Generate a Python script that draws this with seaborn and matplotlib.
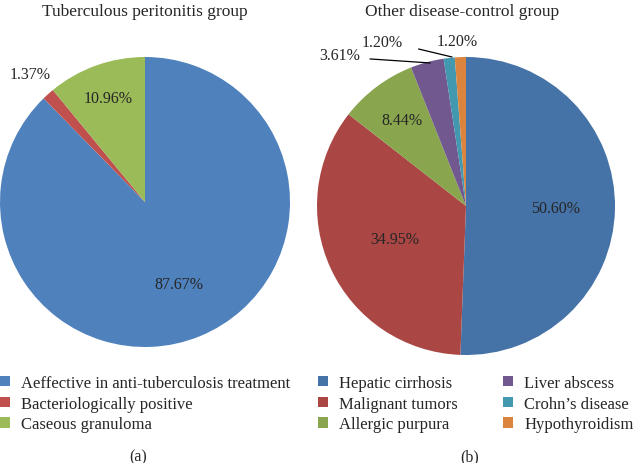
import numpy as np
import matplotlib
matplotlib.use('Agg')
import matplotlib.pyplot as plt
import seaborn as sns

sns.set_theme(style="white")
plt.rcParams['font.family'] = ['Liberation Serif', 'DejaVu Serif']

# data
tb_labels = ['Aeffective in anti-tuberculosis treatment', 'Bacteriologically positive', 'Caseous granuloma']
tb_values = [87.67, 1.37, 10.96]
tb_colors = ['#4F81BD', '#C0504D', '#9BBB59']

ctrl_labels = ['Hepatic cirrhosis', 'Malignant tumors', 'Allergic purpura',
               'Liver abscess', "Crohn\u2019s disease", 'Hypothyroidism']
ctrl_values = [50.60, 34.95, 8.44, 3.61, 1.20, 1.20]
ctrl_colors = ['#4572A7', '#AA4643', '#89A54E', '#71588F', '#4198AF', '#DB843D']

W, H = 633, 464
fig = plt.figure(figsize=(W / 100, H / 100), dpi=100)
fig.patch.set_facecolor('white')


def px_axes(cx, cy, r):
    return fig.add_axes([(cx - r) / W, (H - cy - r) / H, 2 * r / W, 2 * r / H])


def mid_angle(w):
    return np.deg2rad((w.theta1 + w.theta2) / 2)


fs = 11.5

# ---- left pie
ax1 = px_axes(145, 203, 145)
w1, _ = ax1.pie(tb_values, colors=tb_colors, startangle=90, counterclock=False,
                wedgeprops=dict(linewidth=0))
ax1.set_xlim(-1, 1); ax1.set_ylim(-1, 1)
# label distances from centre, per wedge
tb_dist = [0.61, 1.19, 0.76]
for w, v, d in zip(w1, tb_values, tb_dist):
    a = mid_angle(w)
    ax1.text(d * np.cos(a), d * np.sin(a), f'{v:.2f}%', ha='center', va='center', fontsize=fs)

# ---- right pie
ax2 = px_axes(466, 207, 149)
w2, _ = ax2.pie(ctrl_values, colors=ctrl_colors, startangle=90, counterclock=False,
                wedgeprops=dict(linewidth=0))
ax2.set_xlim(-1, 1); ax2.set_ylim(-1, 1)
ctrl_dist = [0.6, 0.53, 0.72]
for w, v, d in zip(w2[:3], ctrl_values[:3], ctrl_dist):
    a = mid_angle(w)
    ax2.text(d * np.cos(a), d * np.sin(a), f'{v:.2f}%', ha='center', va='center', fontsize=fs)

# small slices with leader lines (text positions in axes data units)
ax2.annotate(f'{ctrl_values[3]:.2f}%', xy=(-0.24, 0.96), xytext=(-0.85, 1.013),
             ha='center', va='center', fontsize=fs,
             arrowprops=dict(arrowstyle='-', color='black', lw=0.9, relpos=(1, 0.3),
                             shrinkA=5, shrinkB=0))
ax2.annotate(f'{ctrl_values[4]:.2f}%', xy=(-0.094, 1.0), xytext=(-0.56, 1.10),
             ha='center', va='center', fontsize=fs,
             arrowprops=dict(arrowstyle='-', color='black', lw=0.9, relpos=(1, 0.3),
                             shrinkA=9, shrinkB=0))
ax2.text(-0.06, 1.107, f'{ctrl_values[5]:.2f}%', ha='center', va='center', fontsize=fs)

# titles
fig.text(145 / W, 1 - 12 / H, 'Tuberculous peritonitis group', ha='center', va='center', fontsize=12.5)
fig.text(462 / W, 1 - 12 / H, 'Other disease-control group', ha='center', va='center', fontsize=12.5)

# ---- legends
leg_kw = dict(frameon=False, fontsize=12, handlelength=0.6, handleheight=0.6,
              handletextpad=0.65, labelspacing=0.28, borderaxespad=0, borderpad=0)
fig.legend(w1, tb_labels, loc='upper left', bbox_to_anchor=(0 / W, 1 - 376 / H), **leg_kw)
fig.legend(w2, ctrl_labels, loc='upper left', bbox_to_anchor=(318 / W, 1 - 376 / H),
           ncol=2, columnspacing=2.75, **leg_kw)

fig.text(138 / W, 1 - 457 / H, '(a)', ha='center', va='center', fontsize=11.5)
fig.text(470 / W, 1 - 457 / H, '(b)', ha='center', va='center', fontsize=11.5)

fig.savefig('out.png', dpi=100)
